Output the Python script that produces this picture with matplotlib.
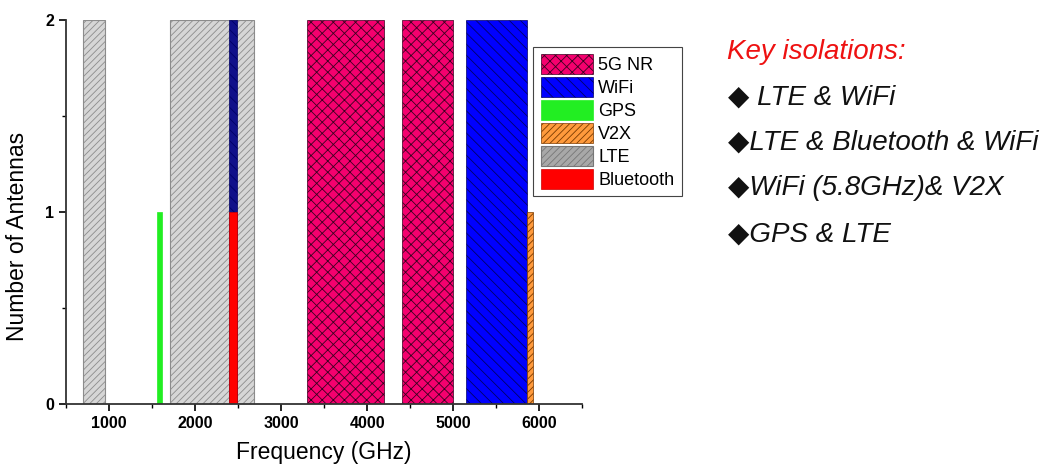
import matplotlib
matplotlib.use("Agg")
import matplotlib.pyplot as plt
from matplotlib.ticker import MultipleLocator
from matplotlib.patches import Patch

plt.rcParams['font.family'] = ['Liberation Sans', 'DejaVu Sans']
plt.rcParams['hatch.linewidth'] = 0.6

# frequency bands (axis units), start / end, antennas
lte_start = [698, 1710]
lte_end = [960, 2690]
lte_n = [2, 2]

gps_start = [1560]
gps_end = [1615]
gps_n = [1]

wifi_start = [2400, 5150]
wifi_end = [2484, 5850]
wifi_n = [2, 2]

bt_start = [2400]
bt_end = [2484]
bt_n = [1]

nr_start = [3300, 4400]
nr_end = [4200, 5000]
nr_n = [2, 2]

v2x_start = [5850]
v2x_end = [5925]
v2x_n = [1]

isolations = [" LTE & WiFi", "LTE & Bluetooth & WiFi", "WiFi (5.8GHz)& V2X", "GPS & LTE"]


def widths(s, e):
    return [b - a for a, b in zip(s, e)]


fig = plt.figure(figsize=(10.61, 4.71), dpi=100)
ax = fig.add_axes([0.062, 0.142, 0.487, 0.816])

lte_style = dict(facecolor='#d6d6d6', edgecolor='#8c8c8c', hatch='/////', linewidth=0.8)
gps_style = dict(facecolor='#22ee22', edgecolor='#22ee22', linewidth=0.5)
wifi_style = dict(facecolor='#0000ff', edgecolor='#000066', hatch='\\\\\\', linewidth=0.5)
bt_style = dict(facecolor='#ff0000', edgecolor='#cc0000', linewidth=0.5)
nr_style = dict(facecolor='#f5006e', edgecolor='#3a0020', hatch='xxx', linewidth=0.5)
v2x_style = dict(facecolor='#ff9a3c', edgecolor='#7a3a00', hatch='/////', linewidth=0.5)

ax.bar(lte_start, lte_n, widths(lte_start, lte_end), align='edge', **lte_style)
ax.bar(gps_start, gps_n, widths(gps_start, gps_end), align='edge', **gps_style)
wb = ax.bar(wifi_start, wifi_n, widths(wifi_start, wifi_end), align='edge', **wifi_style)
wb.patches[0].set_facecolor('#10108a')
ax.bar(bt_start, bt_n, widths(bt_start, bt_end), align='edge', **bt_style)
ax.bar(nr_start, nr_n, widths(nr_start, nr_end), align='edge', **nr_style)
ax.bar(v2x_start, v2x_n, widths(v2x_start, v2x_end), align='edge', **v2x_style)

ax.set_xlim(500, 6500)
ax.set_ylim(0, 2)
ax.xaxis.set_major_locator(MultipleLocator(1000))
ax.xaxis.set_minor_locator(MultipleLocator(500))
ax.yaxis.set_major_locator(MultipleLocator(1))
ax.yaxis.set_minor_locator(MultipleLocator(0.5))
ax.spines['top'].set_visible(False)
ax.spines['right'].set_visible(False)
for s in ['left', 'bottom']:
    ax.spines[s].set_linewidth(1.3)
    ax.spines[s].set_color('#333333')
ax.tick_params(which='major', direction='out', length=5, width=1.2, labelsize=11.5)
ax.tick_params(which='minor', direction='out', length=3, width=1)
for t in ax.get_xticklabels() + ax.get_yticklabels():
    t.set_fontweight('bold')

ax.set_xlabel('Frequency (GHz)', fontsize=16.5, labelpad=7)
ax.set_ylabel('Number of Antennas', fontsize=16.5)
ax.yaxis.set_label_coords(-0.072, 0.435)

lte_leg = dict(lte_style, facecolor='#a8a8a8', edgecolor='#777777')
handles = [Patch(**nr_style), Patch(**wifi_style), Patch(**gps_style),
           Patch(**v2x_style), Patch(**lte_leg), Patch(**bt_style)]
labels = ['5G NR', 'WiFi', 'GPS', 'V2X', 'LTE', 'Bluetooth']
leg = ax.legend(handles, labels, loc='upper left',
                bbox_to_anchor=(0.905, 0.93), fontsize=13, frameon=True, fancybox=False,
                framealpha=1, edgecolor='#444444', handlelength=2.9, handleheight=1.35,
                labelspacing=0.15, borderpad=0.4, handletextpad=0.3, borderaxespad=0)
leg.get_frame().set_linewidth(0.8)

fig.text(0.685, 0.875, 'Key isolations:', color='#ee1111', fontsize=20, style='italic')
ys = [0.777, 0.682, 0.585, 0.488]
for y, s in zip(ys, isolations):
    fig.text(0.686, y, '\u25c6' + s, fontsize=20, style='italic', color='#111111')

fig.savefig('out.png', dpi=100)
